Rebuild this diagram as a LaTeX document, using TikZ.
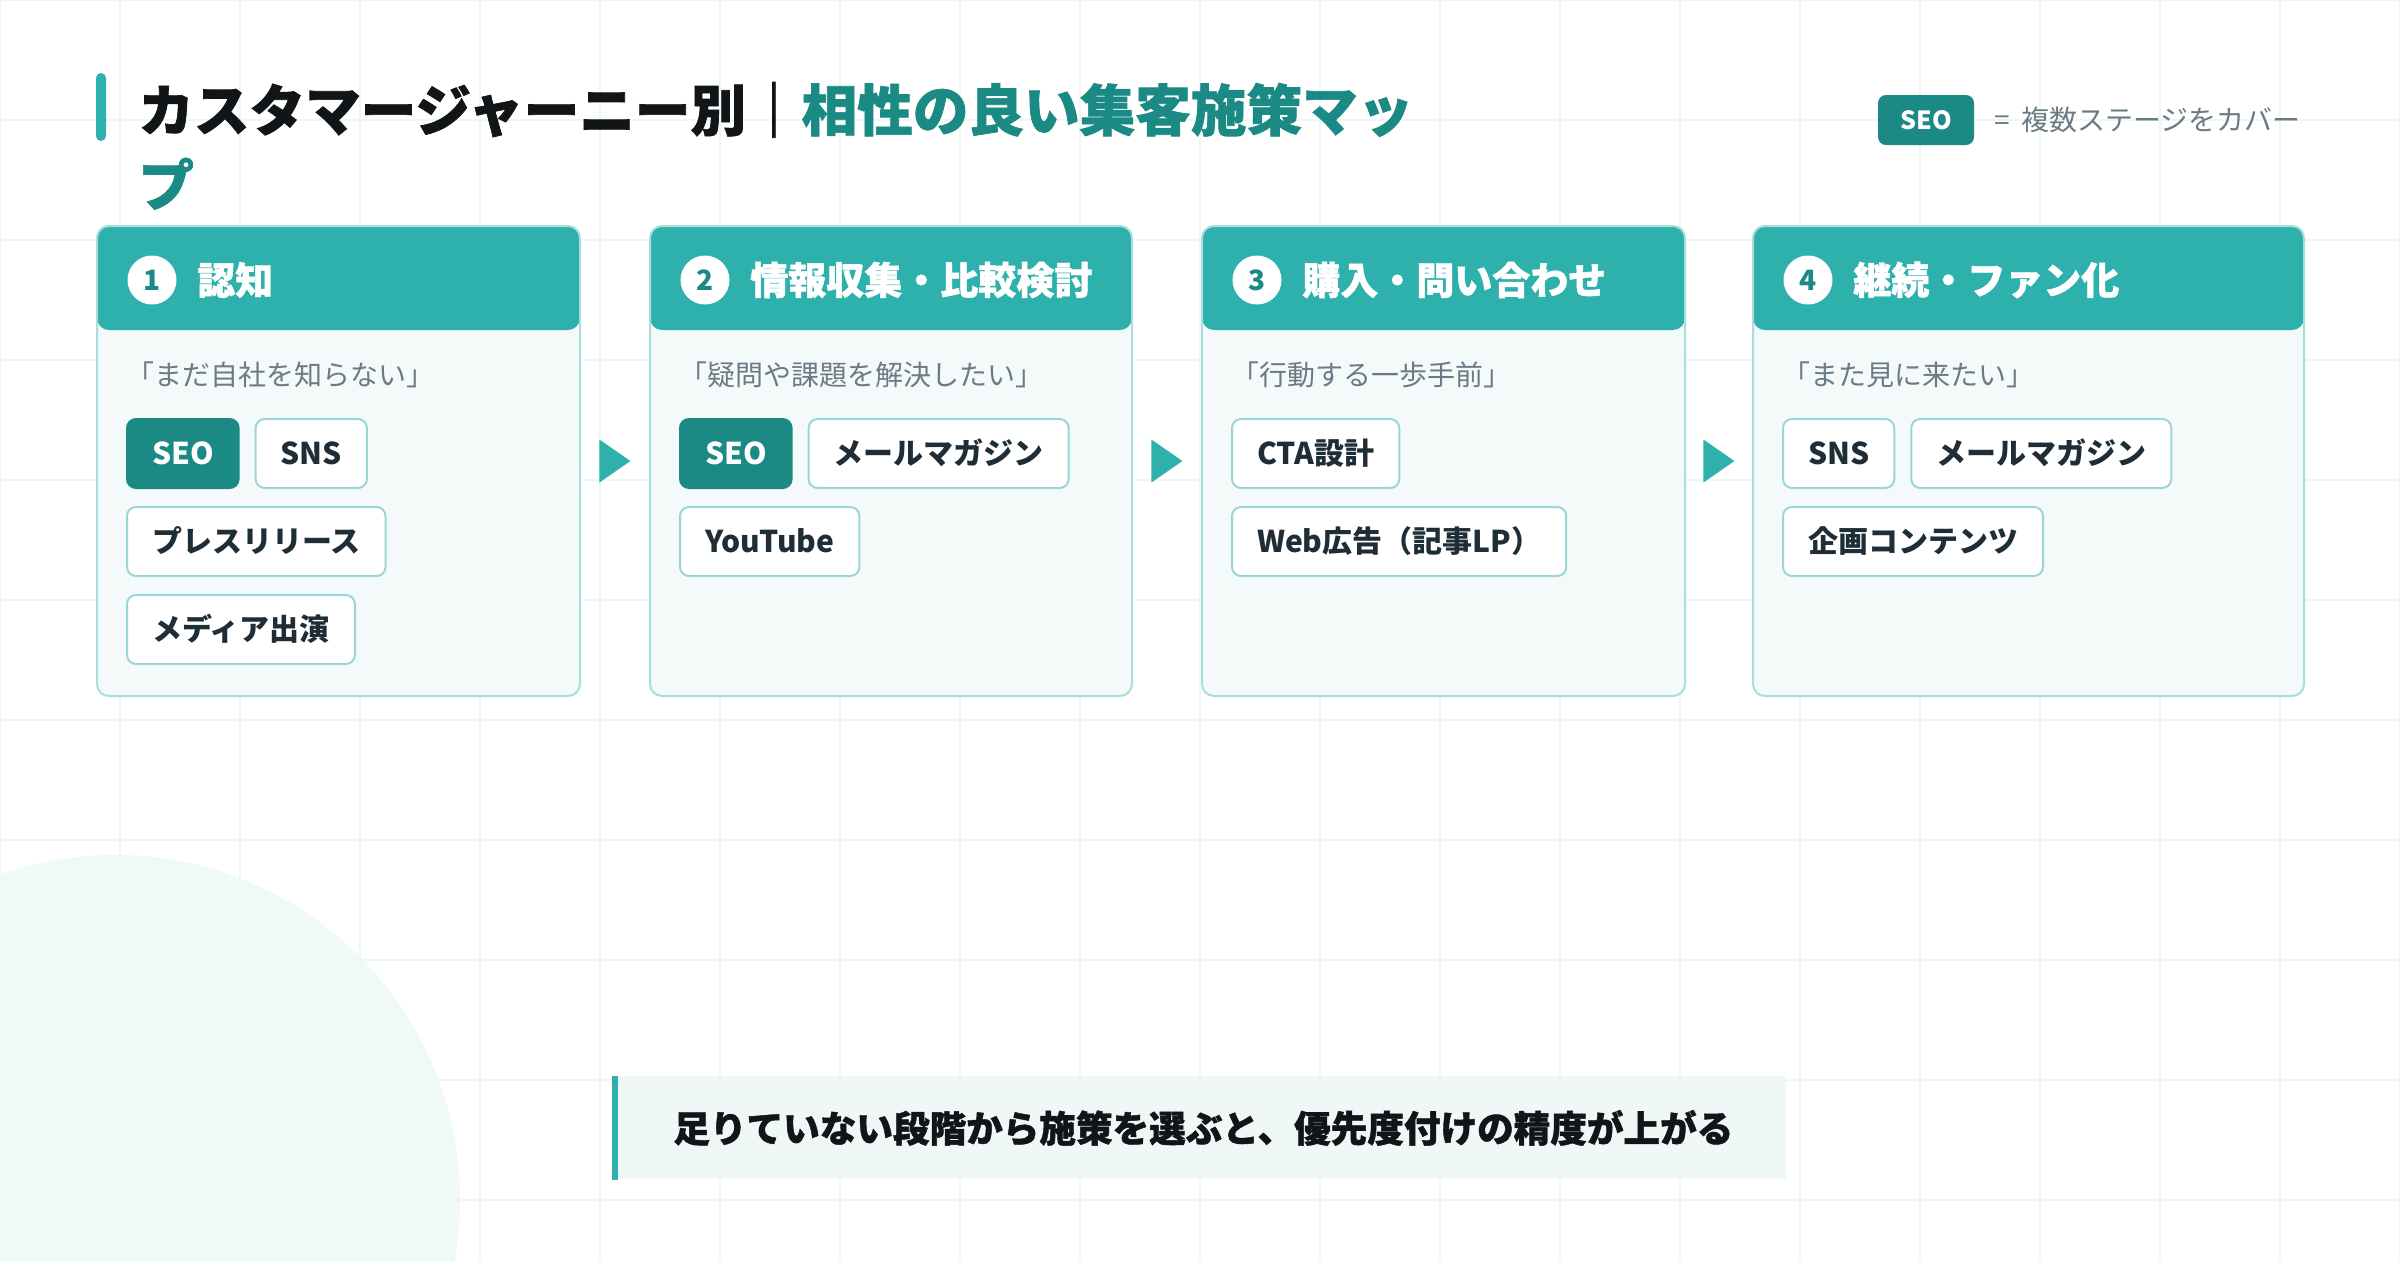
\documentclass[tikz,border=0pt]{standalone}
\usepackage{fontspec}
\setmainfont{Noto Sans CJK JP}
\newfontfamily\heavyfont{Noto Sans CJK JP}[BoldFeatures={FakeBold=1.2}]
\usetikzlibrary{positioning,shapes.geometric,calc}
\definecolor{headteal}{HTML}{2EB1AD}
\definecolor{deepteal}{HTML}{1C8A84}
\definecolor{cardfill}{HTML}{F4FAFA}
\definecolor{cardline}{HTML}{A8DEDB}
\definecolor{chipline}{HTML}{9AD6D3}
\definecolor{inkdark}{HTML}{1F2D36}
\definecolor{subgray}{HTML}{6B7B85}
\definecolor{titleink}{HTML}{111518}
\definecolor{gridline}{HTML}{EDF7F6}
\definecolor{notefill}{HTML}{EFF8F7}
\definecolor{blobfill}{HTML}{EFF9F8}
\begin{document}
\begin{tikzpicture}[x=0.5pt, y=-0.5pt,
	stagecard/.style={draw=cardline, line width=1pt, fill=cardfill, rounded corners=6pt, minimum height=235pt, inner sep=0pt, anchor=north west,
		path picture={\fill[headteal] (path picture bounding box.north west) rectangle ([yshift=-52pt]path picture bounding box.north east);}},
	stepno/.style={circle, fill=white, minimum size=24.5pt, inner sep=0pt, text=deepteal, font=\bfseries\fontsize{14pt}{14pt}\selectfont},
	stagetitle/.style={text=white, inner sep=0pt, font=\heavyfont\bfseries\fontsize{19pt}{19pt}\selectfont},
	quote/.style={anchor=west, inner sep=0pt, text=subgray, font=\fontsize{14pt}{14pt}\selectfont},
	chip/.style={draw=chipline, line width=1pt, fill=white, rounded corners=4.5pt, minimum height=34.5pt, inner xsep=12.5pt, inner ysep=0pt, text height=13pt, text depth=2pt, text=inkdark, font=\bfseries\fontsize{15pt}{15pt}\selectfont},
	seochip/.style={chip, draw=deepteal, fill=deepteal, text=white},
	flowtri/.style={isosceles triangle, isosceles triangle stretches, fill=headteal, inner sep=0pt, minimum width=21.5pt, minimum height=15.5pt, anchor=west},
	titletext/.style={inner sep=0pt, text=titleink, font=\heavyfont\bfseries\fontsize{27.8pt}{27.8pt}\selectfont}]
	\useasboundingbox (0,0) rectangle (2400,1260);
	\fill[white] (0,0) rectangle (2400,1260);
	\fill[blobfill] (115,1200) circle[radius=172.5pt];
	\foreach \gx in {0,120,...,2400} \draw[gridline, line width=1pt] (\gx,0) -- (\gx,1260);
	\foreach \gy in {0,120,...,1260} \draw[gridline, line width=1pt] (0,\gy) -- (2400,\gy);

	\fill[headteal, rounded corners=2.5pt] (96,73) rectangle (106,141);
	\node[titletext, anchor=base west] (title1) at (138,131) {カスタマージャーニー別｜\textcolor{deepteal}{相性の良い集客施策マッ}};
	\node[titletext, anchor=base west, text=deepteal] (title2) at ([yshift=-37.5pt]title1.base west) {プ};
	\node[fill=deepteal, rounded corners=4pt, minimum width=48pt, minimum height=25pt, inner sep=0pt, text=white, font=\bfseries\fontsize{12.5pt}{12.5pt}\selectfont] (legseo) at (1926,120) {SEO};
	\node[quote, right=10pt of legseo] (legtext) {=\, 複数ステージをカバー};

	\node[stagecard, minimum width=241.5pt] (card1) at (96,225) {};
	\node[stagecard, minimum width=241pt, right=34pt of card1] (card2) {};
	\node[stagecard, minimum width=241.5pt, right=34pt of card2] (card3) {};
	\node[stagecard, minimum width=275.5pt, right=33pt of card3] (card4) {};

	\node[stepno] (no1) at ([xshift=28pt, yshift=-27.5pt]card1.north west) {1};
	\node[stagetitle, right=10pt of no1] (head1) {認知};
	\node[quote] (quote1) at ([xshift=15pt, yshift=-75pt]card1.north west) {「まだ自社を知らない」};
	\node[seochip, anchor=north west] (c11) at ([xshift=15pt, yshift=-96.5pt]card1.north west) {SEO};
	\node[chip, right=7.5pt of c11] (c12) {SNS};
	\node[chip, anchor=north west] (c13) at ([yshift=-8.5pt]c11.south west) {プレスリリース};
	\node[chip, anchor=north west] (c14) at ([yshift=-8.5pt]c13.south west) {メディア出演};

	\node[stepno] (no2) at ([xshift=28pt, yshift=-27.5pt]card2.north west) {2};
	\node[stagetitle, right=10pt of no2] (head2) {情報収集・比較検討};
	\node[quote] (quote2) at ([xshift=15pt, yshift=-75pt]card2.north west) {「疑問や課題を解決したい」};
	\node[seochip, anchor=north west] (c21) at ([xshift=15pt, yshift=-96.5pt]card2.north west) {SEO};
	\node[chip, right=7.5pt of c21] (c22) {メールマガジン};
	\node[chip, anchor=north west] (c23) at ([yshift=-8.5pt]c21.south west) {YouTube};

	\node[stepno] (no3) at ([xshift=28pt, yshift=-27.5pt]card3.north west) {3};
	\node[stagetitle, right=10pt of no3] (head3) {購入・問い合わせ};
	\node[quote] (quote3) at ([xshift=15pt, yshift=-75pt]card3.north west) {「行動する一歩手前」};
	\node[chip, anchor=north west] (c31) at ([xshift=15pt, yshift=-96.5pt]card3.north west) {CTA設計};
	\node[chip, anchor=north west] (c32) at ([yshift=-8.5pt]c31.south west) {Web広告（記事LP）};

	\node[stepno] (no4) at ([xshift=28pt, yshift=-27.5pt]card4.north west) {4};
	\node[stagetitle, right=10pt of no4] (head4) {継続・ファン化};
	\node[quote] (quote4) at ([xshift=15pt, yshift=-75pt]card4.north west) {「また見に来たい」};
	\node[chip, anchor=north west] (c41) at ([xshift=15pt, yshift=-96.5pt]card4.north west) {SNS};
	\node[chip, right=7.5pt of c41] (c42) {メールマガジン};
	\node[chip, anchor=north west] (c43) at ([yshift=-8.5pt]c41.south west) {企画コンテンツ};

	\node[flowtri] (tri1) at ([xshift=-8pt]$(card1.east)!0.5!(card2.west)$) {};
	\node[flowtri] (tri2) at ([xshift=-8pt]$(card2.east)!0.5!(card3.west)$) {};
	\node[flowtri] (tri3) at ([xshift=-8pt]$(card3.east)!0.5!(card4.west)$) {};

	\node[fill=notefill, anchor=north west, minimum width=587pt, minimum height=51.5pt, inner sep=0pt] (note) at (612,1076) {};
	\fill[headteal] (note.north west) rectangle ([xshift=3pt]note.south west);
	\node[anchor=west, inner sep=0pt, text=titleink, font=\heavyfont\bfseries\fontsize{18.3pt}{18.3pt}\selectfont] (notetext) at ([xshift=30.5pt]note.west) {足りていない段階から施策を選ぶと、優先度付けの精度が上がる};
\end{tikzpicture}
\end{document}
